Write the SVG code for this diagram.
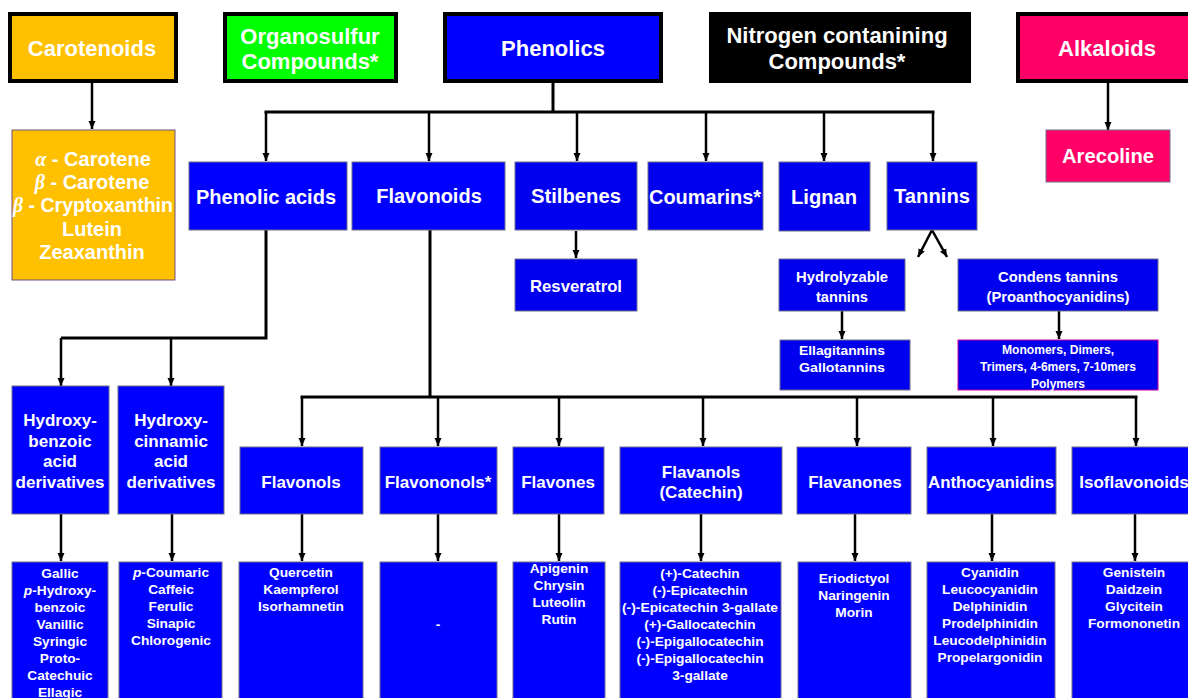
<svg xmlns="http://www.w3.org/2000/svg" width="1188" height="698" viewBox="0 0 1188 698">
<defs>
<style>
.top{stroke:#000;stroke-width:4}
.bx{stroke:#6e6e8a;stroke-width:1}
.b{fill:#0000FF}
.d{fill:#0000EE}
text{font-family:"Liberation Sans",Arial,sans-serif;font-weight:bold;fill:#fff;text-anchor:middle}
.t20{font-size:22px}
.t18{font-size:20px}
.t16{font-size:17px}
.t15{font-size:15px}
.t13{font-size:13.7px}
.t12{font-size:12.5px}
.gr{font-family:"Liberation Serif",serif;font-style:italic}
.ln{fill:none;stroke:#000;stroke-width:3}
.ar{fill:none;stroke:#000;stroke-width:2.5;marker-end:url(#ah)}
</style>
<marker id="ah" markerUnits="userSpaceOnUse" markerWidth="9" markerHeight="9" refX="8" refY="4" orient="auto">
<path d="M0,0.5 L8,4 L0,7.5 z" fill="#000"/>
</marker>
</defs>
<rect width="1188" height="698" fill="#fff"/>

<g id="connectors">
<path class="ar" d="M92,82 V129"/>
<path class="ar" d="M1108,82 V130"/>
<path class="ln" d="M553,82 V112 M264.5,112 H934.5"/>
<path class="ar" d="M266,112 V161"/>
<path class="ar" d="M429,112 V161"/>
<path class="ar" d="M577,112 V161"/>
<path class="ar" d="M706,112 V161"/>
<path class="ar" d="M824,112 V161"/>
<path class="ar" d="M933,112 V161"/>
<path class="ar" d="M576,231 V258"/>
<path class="ar" d="M932,230 L918,257"/>
<path class="ar" d="M932,230 L947,257"/>
<path class="ar" d="M842,311 V339"/>
<path class="ar" d="M1059,311 V339"/>
<path class="ln" d="M266,230 V338 H61"/>
<path class="ar" d="M61,338 V386"/>
<path class="ar" d="M171,338 V386"/>
<path class="ln" d="M430,230 V397 M300.5,397 H1137.5"/>
<path class="ar" d="M302,397 V446"/>
<path class="ar" d="M438,397 V446"/>
<path class="ar" d="M559,397 V446"/>
<path class="ar" d="M703,397 V446"/>
<path class="ar" d="M857,397 V446"/>
<path class="ar" d="M993,397 V446"/>
<path class="ar" d="M1136,397 V446"/>
<path class="ar" d="M61,514 V561"/>
<path class="ar" d="M172,514 V561"/>
<path class="ar" d="M302,514 V561"/>
<path class="ar" d="M438,514 V561"/>
<path class="ar" d="M559,514 V561"/>
<path class="ar" d="M701,514 V561"/>
<path class="ar" d="M855,514 V561"/>
<path class="ar" d="M992,514 V561"/>
<path class="ar" d="M1135,514 V561"/>
</g>

<g id="carotenoids">
<rect class="top" x="10" y="14" width="166" height="67" fill="#FFC000"/>
<text class="t20" x="92" y="56">Carotenoids</text>
</g>
<g id="organosulfur">
<rect class="top" x="225" y="14" width="171" height="67" fill="#00FF00"/>
<text class="t20" x="310" y="44">Organosulfur</text>
<text class="t20" x="310" y="69">Compounds*</text>
</g>
<g id="phenolics">
<rect class="top" x="445" y="14" width="216" height="67" fill="#0000FF"/>
<text class="t20" x="553" y="56">Phenolics</text>
</g>
<g id="nitrogen">
<rect class="top" x="711" y="14" width="258" height="67" fill="#000"/>
<text class="t20" x="837" y="43">Nitrogen contanining</text>
<text class="t20" x="837" y="69">Compounds*</text>
</g>
<g id="alkaloids">
<rect class="top" x="1018" y="14" width="175" height="67" fill="#FF0066"/>
<text class="t20" x="1107" y="56">Alkaloids</text>
</g>

<g id="carotenoid-list">
<rect x="12" y="130" width="163" height="150" fill="#FFC000" stroke="#705080" stroke-width="1"/>
<text class="t18" x="93" y="166"><tspan class="gr">α</tspan> - Carotene</text>
<text class="t18" x="92" y="189"><tspan class="gr">β</tspan> - Carotene</text>
<text class="t18" x="93" y="212" textLength="160" lengthAdjust="spacingAndGlyphs"><tspan class="gr">β</tspan> - Cryptoxanthin</text>
<text class="t18" x="92" y="236">Lutein</text>
<text class="t18" x="92" y="259">Zeaxanthin</text>
</g>
<g id="arecoline">
<rect class="bx" x="1046" y="130" width="124" height="52" fill="#FF0066"/>
<text class="t18" x="1108" y="163" textLength="92" lengthAdjust="spacingAndGlyphs">Arecoline</text>
</g>

<g id="phenolic-acids">
<rect class="bx b" x="189" y="162" width="158" height="68"/>
<text class="t18" x="266" y="204">Phenolic acids</text>
</g>
<g id="flavonoids">
<rect class="bx b" x="352" y="162" width="153" height="68"/>
<text class="t18" x="429" y="203">Flavonoids</text>
</g>
<g id="stilbenes">
<rect class="bx d" x="515" y="162" width="122" height="68"/>
<text class="t18" x="576" y="203" textLength="90" lengthAdjust="spacingAndGlyphs">Stilbenes</text>
</g>
<g id="coumarins">
<rect class="bx d" x="648" y="162" width="115" height="68"/>
<text class="t18" x="705" y="204" textLength="112" lengthAdjust="spacingAndGlyphs">Coumarins*</text>
</g>
<g id="lignan">
<rect class="bx d" x="779" y="162" width="91" height="69"/>
<text class="t18" x="824" y="204" textLength="66" lengthAdjust="spacingAndGlyphs">Lignan</text>
</g>
<g id="tannins">
<rect class="bx d" x="887" y="162" width="90" height="68"/>
<text class="t18" x="932" y="203" textLength="76" lengthAdjust="spacingAndGlyphs">Tannins</text>
</g>

<g id="resveratrol">
<rect class="bx d" x="515" y="259" width="122" height="52"/>
<text class="t16" x="576" y="292" textLength="92" lengthAdjust="spacingAndGlyphs">Resveratrol</text>
</g>
<g id="hydrolyzable">
<rect class="bx d" x="779" y="259" width="126" height="52"/>
<text class="t15" x="842" y="282" textLength="92" lengthAdjust="spacingAndGlyphs">Hydrolyzable</text>
<text class="t15" x="842" y="302" textLength="52" lengthAdjust="spacingAndGlyphs">tannins</text>
</g>
<g id="condensed">
<rect class="bx d" x="958" y="259" width="200" height="52"/>
<text class="t15" x="1058" y="282" textLength="120" lengthAdjust="spacingAndGlyphs">Condens tannins</text>
<text class="t15" x="1058" y="302" textLength="143" lengthAdjust="spacingAndGlyphs">(Proanthocyanidins)</text>
</g>
<g id="ellagitannins">
<rect class="bx d" x="780" y="340" width="130" height="50"/>
<text class="t13" x="842" y="355" textLength="86" lengthAdjust="spacingAndGlyphs">Ellagitannins</text>
<text class="t13" x="842" y="372" textLength="86" lengthAdjust="spacingAndGlyphs">Gallotannins</text>
</g>
<g id="oligomers">
<rect x="958" y="340" width="200" height="50" fill="#0000EE" stroke="#CC0099" stroke-width="1"/>
<text class="t12" x="1058" y="354" textLength="112" lengthAdjust="spacingAndGlyphs">Monomers, Dimers,</text>
<text class="t12" x="1058" y="371" textLength="156" lengthAdjust="spacingAndGlyphs">Trimers, 4-6mers, 7-10mers</text>
<text class="t12" x="1058" y="388" textLength="54" lengthAdjust="spacingAndGlyphs">Polymers</text>
</g>

<g id="hydroxybenzoic">
<rect class="bx b" x="12" y="386" width="97" height="128"/>
<text class="t16" x="60" y="426">Hydroxy-</text>
<text class="t16" x="60" y="447">benzoic</text>
<text class="t16" x="60" y="467">acid</text>
<text class="t16" x="60" y="488">derivatives</text>
</g>
<g id="hydroxycinnamic">
<rect class="bx b" x="118" y="386" width="106" height="128"/>
<text class="t16" x="171" y="426">Hydroxy-</text>
<text class="t16" x="171" y="447">cinnamic</text>
<text class="t16" x="171" y="467">acid</text>
<text class="t16" x="171" y="488">derivatives</text>
</g>
<g id="flavonols">
<rect class="bx b" x="240" y="447" width="123" height="67"/>
<text class="t16" x="301" y="488">Flavonols</text>
</g>
<g id="flavononols">
<rect class="bx b" x="380" y="447" width="117" height="67"/>
<text class="t16" x="438" y="488">Flavononols*</text>
</g>
<g id="flavones">
<rect class="bx b" x="513" y="447" width="91" height="67"/>
<text class="t16" x="558" y="488">Flavones</text>
</g>
<g id="flavanols">
<rect class="bx b" x="620" y="447" width="162" height="67"/>
<text class="t16" x="701" y="478">Flavanols</text>
<text class="t16" x="701" y="498">(Catechin)</text>
</g>
<g id="flavanones">
<rect class="bx b" x="797" y="447" width="114" height="67"/>
<text class="t16" x="855" y="488">Flavanones</text>
</g>
<g id="anthocyanidins">
<rect class="bx b" x="927" y="447" width="129" height="67"/>
<text class="t16" x="991" y="488" textLength="126" lengthAdjust="spacingAndGlyphs">Anthocyanidins</text>
</g>
<g id="isoflavonoids">
<rect class="bx b" x="1072" y="447" width="120" height="67"/>
<text class="t16" x="1134" y="488">Isoflavonoids</text>
</g>

<g id="benzoic-list">
<rect class="bx b" x="12" y="562" width="96" height="140"/>
<text class="t13" x="60" y="578">Gallic</text>
<text class="t13" x="60" y="595"><tspan font-style="italic">p</tspan>-Hydroxy-</text>
<text class="t13" x="60" y="612">benzoic</text>
<text class="t13" x="60" y="629">Vanillic</text>
<text class="t13" x="60" y="646">Syringic</text>
<text class="t13" x="60" y="663">Proto-</text>
<text class="t13" x="60" y="680">Catechuic</text>
<text class="t13" x="60" y="697">Ellagic</text>
</g>
<g id="cinnamic-list">
<rect class="bx b" x="119" y="562" width="103" height="140"/>
<text class="t13" x="171" y="577"><tspan font-style="italic">p</tspan>-Coumaric</text>
<text class="t13" x="171" y="594">Caffeic</text>
<text class="t13" x="171" y="611">Ferulic</text>
<text class="t13" x="171" y="628">Sinapic</text>
<text class="t13" x="171" y="645">Chlorogenic</text>
</g>
<g id="flavonols-list">
<rect class="bx b" x="239" y="562" width="124" height="140"/>
<text class="t13" x="301" y="577">Quercetin</text>
<text class="t13" x="301" y="594">Kaempferol</text>
<text class="t13" x="301" y="611">Isorhamnetin</text>
</g>
<g id="flavononols-list">
<rect class="bx b" x="380" y="562" width="117" height="140"/>
<text class="t13" x="438" y="629">-</text>
</g>
<g id="flavones-list">
<rect class="bx b" x="513" y="562" width="92" height="140"/>
<text class="t13" x="559" y="573">Apigenin</text>
<text class="t13" x="559" y="590">Chrysin</text>
<text class="t13" x="559" y="607">Luteolin</text>
<text class="t13" x="559" y="624">Rutin</text>
</g>
<g id="flavanols-list">
<rect class="bx b" x="620" y="562" width="161" height="140"/>
<text class="t13" x="700" y="578">(+)-Catechin</text>
<text class="t13" x="700" y="595">(-)-Epicatechin</text>
<text class="t13" x="700" y="612" textLength="156" lengthAdjust="spacingAndGlyphs">(-)-Epicatechin  3-gallate</text>
<text class="t13" x="700" y="629">(+)-Gallocatechin</text>
<text class="t13" x="700" y="646">(-)-Epigallocatechin</text>
<text class="t13" x="700" y="663">(-)-Epigallocatechin</text>
<text class="t13" x="700" y="680">3-gallate</text>
</g>
<g id="flavanones-list">
<rect class="bx b" x="798" y="562" width="113" height="140"/>
<text class="t13" x="854" y="583">Eriodictyol</text>
<text class="t13" x="854" y="600">Naringenin</text>
<text class="t13" x="854" y="617">Morin</text>
</g>
<g id="anthocyanidins-list">
<rect class="bx b" x="927" y="562" width="128" height="140"/>
<text class="t13" x="990" y="577">Cyanidin</text>
<text class="t13" x="990" y="594">Leucocyanidin</text>
<text class="t13" x="990" y="611">Delphinidin</text>
<text class="t13" x="990" y="628">Prodelphinidin</text>
<text class="t13" x="990" y="645">Leucodelphinidin</text>
<text class="t13" x="990" y="662">Propelargonidin</text>
</g>
<g id="isoflavonoids-list">
<rect class="bx b" x="1072" y="562" width="120" height="140"/>
<text class="t13" x="1134" y="577">Genistein</text>
<text class="t13" x="1134" y="594">Daidzein</text>
<text class="t13" x="1134" y="611">Glycitein</text>
<text class="t13" x="1134" y="628">Formononetin</text>
</g>
</svg>
